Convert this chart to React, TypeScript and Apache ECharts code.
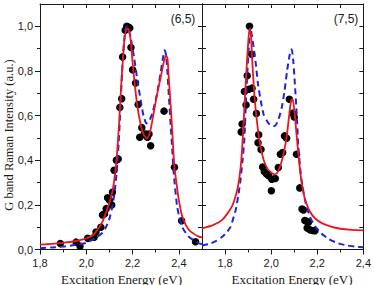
import { useEffect, useRef } from "react";
import * as echarts from "echarts";

// Measured G-band intensities, (6,5) tube
const dots65: [number, number][] = [
  [1.888, 0.027], [1.956, 0.033], [1.973, 0.015], [2.006, 0.05], [2.034, 0.055],
  [2.042, 0.078], [2.063, 0.1], [2.07, 0.155], [2.079, 0.16], [2.086, 0.183],
  [2.092, 0.232], [2.1, 0.222], [2.11, 0.199], [2.113, 0.256], [2.12, 0.355],
  [2.13, 0.4], [2.138, 0.406], [2.145, 0.636], [2.153, 0.676], [2.157, 0.863],
  [2.168, 0.982], [2.175, 1.0], [2.183, 0.996], [2.188, 0.993], [2.193, 0.905],
  [2.2, 0.805], [2.213, 0.746], [2.224, 0.65], [2.24, 0.546], [2.231, 0.503],
  [2.25, 0.515], [2.257, 0.517], [2.264, 0.503], [2.271, 0.517], [2.278, 0.465],
  [2.336, 0.62], [2.381, 0.368], [2.412, 0.129], [2.472, 0.035],
];

// Fit (red) and model (blue dashed), (6,5) tube
const fit65: [number, number][] = [
  [1.8, 0.022], [1.85, 0.025], [1.9, 0.03], [1.95, 0.037], [2.0, 0.05], [2.03, 0.065],
  [2.056, 0.1], [2.07, 0.125], [2.085, 0.165], [2.1, 0.21], [2.113, 0.26], [2.12, 0.305],
  [2.128, 0.37], [2.135, 0.46], [2.142, 0.57], [2.15, 0.72], [2.158, 0.85], [2.165, 0.94],
  [2.172, 0.985], [2.18, 0.99], [2.186, 0.975], [2.192, 0.937], [2.199, 0.85], [2.21, 0.735],
  [2.221, 0.64], [2.235, 0.56], [2.248, 0.515], [2.262, 0.497], [2.275, 0.525], [2.285, 0.575],
  [2.296, 0.64], [2.307, 0.7], [2.318, 0.755], [2.328, 0.805], [2.337, 0.85], [2.345, 0.87],
  [2.351, 0.855], [2.357, 0.76], [2.365, 0.64], [2.372, 0.52], [2.38, 0.38], [2.388, 0.31],
  [2.4, 0.222], [2.414, 0.15], [2.43, 0.11], [2.443, 0.088], [2.465, 0.07], [2.486, 0.058],
  [2.5, 0.054],
];
const model65: [number, number][] = [
  [1.8, 0.006], [1.85, 0.009], [1.9, 0.013], [1.95, 0.02], [2.0, 0.03], [2.03, 0.045],
  [2.05, 0.058], [2.07, 0.075], [2.085, 0.1], [2.099, 0.135], [2.11, 0.18], [2.12, 0.24],
  [2.128, 0.31], [2.135, 0.4], [2.14, 0.48], [2.145, 0.58], [2.15, 0.69], [2.156, 0.82],
  [2.163, 0.93], [2.17, 0.99], [2.176, 1.0], [2.183, 0.985], [2.192, 0.95], [2.206, 0.863],
  [2.221, 0.758], [2.235, 0.669], [2.247, 0.6], [2.26, 0.565], [2.272, 0.575], [2.285, 0.61],
  [2.3, 0.67], [2.311, 0.73], [2.321, 0.79], [2.33, 0.85], [2.339, 0.893], [2.345, 0.87],
  [2.35, 0.803], [2.357, 0.684], [2.365, 0.55], [2.372, 0.44], [2.378, 0.341], [2.393, 0.19],
  [2.414, 0.102], [2.443, 0.057], [2.486, 0.028], [2.5, 0.024],
];

// Measured G-band intensities, (7,5) tube
const dots75: [number, number][] = [
  [1.87, 0.527], [1.874, 0.562], [1.884, 0.708], [1.891, 0.648], [1.896, 0.778],
  [1.903, 0.718], [1.906, 1.0], [1.915, 0.875], [1.917, 0.723], [1.924, 0.673],
  [1.936, 0.609], [1.943, 0.478], [1.946, 0.514], [1.956, 0.448], [1.963, 0.37],
  [1.97, 0.35], [1.98, 0.338], [1.989, 0.33], [2.003, 0.315], [2.018, 0.318],
  [2.001, 0.263], [2.031, 0.367], [2.04, 0.427], [2.05, 0.435], [2.058, 0.509],
  [2.067, 0.499], [2.079, 0.673], [2.094, 0.611], [2.1, 0.594], [2.11, 0.427],
  [2.124, 0.276], [2.134, 0.181], [2.14, 0.177], [2.146, 0.13], [2.155, 0.126],
  [2.162, 0.122], [2.156, 0.096], [2.168, 0.088], [2.18, 0.085], [2.19, 0.084],
];

// Fit (red) and model (blue dashed), (7,5) tube
const fit75: [number, number][] = [
  [1.7, 0.095], [1.745, 0.108], [1.79, 0.135], [1.83, 0.193], [1.85, 0.255], [1.862, 0.32],
  [1.872, 0.42], [1.882, 0.6], [1.892, 0.79], [1.9, 0.92], [1.906, 0.99], [1.912, 0.965],
  [1.918, 0.845], [1.929, 0.67], [1.943, 0.535], [1.955, 0.455], [1.968, 0.4], [1.985, 0.36],
  [2.0, 0.345], [2.013, 0.337], [2.025, 0.342], [2.04, 0.375], [2.055, 0.435], [2.068, 0.51],
  [2.078, 0.6], [2.087, 0.67], [2.094, 0.672], [2.101, 0.62], [2.108, 0.54], [2.117, 0.44],
  [2.127, 0.34], [2.138, 0.265], [2.15, 0.215], [2.168, 0.17], [2.19, 0.14], [2.22, 0.118],
  [2.26, 0.102], [2.3, 0.093], [2.35, 0.088], [2.4, 0.086],
];
const model75: [number, number][] = [
  [1.7, 0.018], [1.731, 0.025], [1.76, 0.037], [1.788, 0.057], [1.81, 0.08], [1.824, 0.102],
  [1.846, 0.177], [1.858, 0.245], [1.867, 0.311], [1.876, 0.4], [1.884, 0.5], [1.893, 0.72],
  [1.903, 0.905], [1.91, 0.995], [1.92, 0.934], [1.932, 0.845], [1.943, 0.74], [1.955, 0.666],
  [1.967, 0.606], [1.982, 0.576], [1.996, 0.558], [2.015, 0.553], [2.032, 0.584], [2.046, 0.636],
  [2.058, 0.711], [2.069, 0.8], [2.081, 0.875], [2.089, 0.897], [2.096, 0.845], [2.103, 0.74],
  [2.111, 0.606], [2.118, 0.46], [2.13, 0.325], [2.147, 0.221], [2.168, 0.147], [2.19, 0.105],
  [2.218, 0.072], [2.25, 0.047], [2.29, 0.028], [2.33, 0.018], [2.362, 0.013], [2.4, 0.01],
];

// Tick positions
const xMajor = [1.8, 2.0, 2.2, 2.4];
const xMinor = [1.9, 2.1, 2.3];
const xTopLeft = [1.9, 2.0, 2.1, 2.2, 2.3, 2.4];
const xTopRight = [1.8, 1.9, 2.0, 2.1, 2.2, 2.3];
const yMajor = [0, 0.2, 0.4, 0.6, 0.8, 1.0];
const yMinor = [0.1, 0.3, 0.5, 0.7, 0.9];
const yAll = [0.1, 0.2, 0.3, 0.4, 0.5, 0.6, 0.7, 0.8, 0.9, 1.0];

const panelTags = ["(6,5)", "(7,5)"];
const xTitle = "Excitation Energy (eV)";
const yTitle = "G band Raman Intensity (a.u.)";

const RED = "#e8161e";
const BLUE = "#2222d8";
const INK = "#1a1a1a";
const SANS = "'Liberation Sans', Arial, sans-serif";
const SERIF = "'Liberation Serif', 'Times New Roman', serif";

const comma = (v: number) => v.toFixed(1).replace(".", ",");

function xAxisDef(grid: number, min: number, max: number, kind: "major" | "minor" | "top") {
  const base: any = {
    type: "value",
    gridIndex: grid,
    min,
    max,
    splitLine: { show: false },
  };
  if (kind === "major") {
    return {
      ...base,
      position: "bottom",
      axisLine: { show: true, onZero: false, lineStyle: { color: INK, width: 1 } },
      axisTick: { show: true, inside: false, length: 5, customValues: xMajor, lineStyle: { color: INK } },
      axisLabel: {
        show: true, customValues: xMajor, margin: 8, formatter: comma,
        fontFamily: SANS, fontSize: 11, color: INK,
      },
    };
  }
  if (kind === "minor") {
    return {
      ...base,
      position: "bottom",
      axisLine: { show: false, onZero: false },
      axisTick: { show: true, inside: false, length: 3, customValues: xMinor, lineStyle: { color: INK } },
      axisLabel: { show: false },
    };
  }
  return {
    ...base,
    position: "top",
    axisLine: { show: true, onZero: false, lineStyle: { color: INK, width: 1 } },
    axisTick: {
      show: true, inside: true, length: 4,
      customValues: grid === 0 ? xTopLeft : xTopRight, lineStyle: { color: INK },
    },
    axisLabel: { show: false },
  };
}

function yAxisDef(grid: number, kind: "major" | "minor" | "left" | "right") {
  const base: any = {
    type: "value",
    gridIndex: grid,
    min: 0,
    max: 1.1,
    splitLine: { show: false },
  };
  if (kind === "major") {
    return {
      ...base,
      position: "left",
      axisLine: { show: true, onZero: false, lineStyle: { color: INK, width: 1 } },
      axisTick: { show: true, inside: false, length: 5, customValues: yMajor, lineStyle: { color: INK } },
      axisLabel: {
        show: true, customValues: yMajor, margin: 7, formatter: comma,
        fontFamily: SANS, fontSize: 11, color: INK,
      },
    };
  }
  if (kind === "minor") {
    return {
      ...base,
      position: "left",
      axisLine: { show: false, onZero: false },
      axisTick: { show: true, inside: false, length: 3, customValues: yMinor, lineStyle: { color: INK } },
      axisLabel: { show: false },
    };
  }
  return {
    ...base,
    position: kind,
    axisLine: { show: true, onZero: false, lineStyle: { color: INK, width: 1 } },
    axisTick: { show: true, inside: true, length: 4, customValues: yAll, lineStyle: { color: INK } },
    axisLabel: { show: false },
  };
}

function panelSeries(xi: number, yi: number, dots: [number, number][], fit: [number, number][], model: [number, number][]) {
  return [
    {
      type: "scatter",
      xAxisIndex: xi,
      yAxisIndex: yi,
      data: dots,
      symbol: "circle",
      symbolSize: 7.5,
      itemStyle: { color: "#000", opacity: 1 },
      z: 2,
    },
    {
      type: "line",
      xAxisIndex: xi,
      yAxisIndex: yi,
      data: model,
      showSymbol: false,
      smooth: 0.2,
      lineStyle: { color: BLUE, width: 2, type: [6, 4] },
      z: 3,
    },
    {
      type: "line",
      xAxisIndex: xi,
      yAxisIndex: yi,
      data: fit,
      showSymbol: false,
      smooth: 0.2,
      lineStyle: { color: RED, width: 1.8 },
      z: 4,
    },
  ];
}

export default function App() {
  const ref = useRef<HTMLDivElement>(null);

  useEffect(() => {
    document.body.style.margin = "0";
    if (!ref.current) return;
    const chart = echarts.init(ref.current, null, { renderer: "svg" });
    chart.setOption({
      animation: false,
      backgroundColor: "#fff",
      grid: [
        { left: 40, top: 4, width: 162, height: 245.5 },
        { left: 202, top: 4, width: 163.5, height: 245.5 },
      ],
      xAxis: [
        xAxisDef(0, 1.8, 2.5, "major"),
        xAxisDef(0, 1.8, 2.5, "minor"),
        xAxisDef(0, 1.8, 2.5, "top"),
        xAxisDef(1, 1.7, 2.4, "major"),
        xAxisDef(1, 1.7, 2.4, "minor"),
        xAxisDef(1, 1.7, 2.4, "top"),
      ],
      yAxis: [
        yAxisDef(0, "major"),
        yAxisDef(0, "minor"),
        yAxisDef(0, "right"),
        yAxisDef(1, "left"),
        yAxisDef(1, "right"),
      ],
      series: [
        ...panelSeries(0, 0, dots65, fit65, model65),
        ...panelSeries(3, 3, dots75, fit75, model75),
      ],
      graphic: [
        {
          type: "text", x: 183, y: 19,
          style: { text: panelTags[0], font: `12px ${SANS}`, fill: INK, textAlign: "center", textVerticalAlign: "middle" },
        },
        {
          type: "text", x: 346, y: 19,
          style: { text: panelTags[1], font: `12px ${SANS}`, fill: INK, textAlign: "center", textVerticalAlign: "middle" },
        },
        {
          type: "text", x: 121.5, y: 279,
          style: { text: xTitle, font: `13px ${SERIF}`, fill: INK, textAlign: "center", textVerticalAlign: "middle" },
        },
        {
          type: "text", x: 292, y: 279,
          style: { text: xTitle, font: `13px ${SERIF}`, fill: INK, textAlign: "center", textVerticalAlign: "middle" },
        },
        {
          type: "text", x: 9, y: 135, rotation: Math.PI / 2,
          style: { text: yTitle, font: `12.5px ${SERIF}`, fill: INK, textAlign: "center", textVerticalAlign: "middle" },
        },
      ],
    });
    return () => chart.dispose();
  }, []);

  return <div ref={ref} style={{ width: 374, height: 285 }} />;
}
